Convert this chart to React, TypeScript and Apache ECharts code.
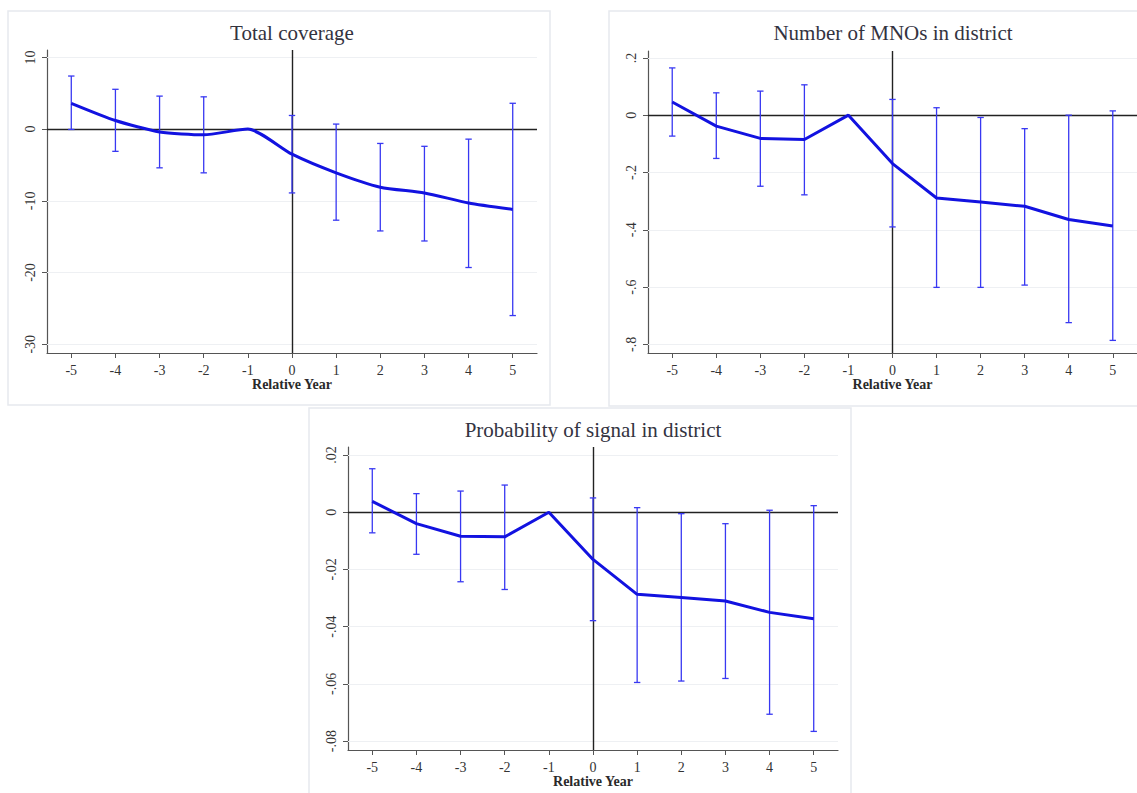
import React, { useEffect, useRef } from "react";
import * as echarts from "echarts";

const years = [-5, -4, -3, -2, -1, 0, 1, 2, 3, 4, 5];

const panelTitles = ["Total coverage", "Number of MNOs in district", "Probability of signal in district"];
const xAxisName = "Relative Year";

const coverageEst = [3.6, 1.2, -0.4, -0.8, 0, -3.5, -6.1, -8.1, -8.9, -10.3, -11.2];
const coverageLo = [-0.05, -3.1, -5.4, -6.1, null, -8.9, -12.7, -14.2, -15.6, -19.3, -26.0];
const coverageHi = [7.4, 5.55, 4.6, 4.5, null, 1.9, 0.7, -2.0, -2.4, -1.4, 3.6];

const mnoEst = [0.046, -0.038, -0.081, -0.085, 0, -0.169, -0.289, -0.303, -0.318, -0.364, -0.387];
const mnoLo = [-0.073, -0.151, -0.248, -0.278, null, -0.39, -0.601, -0.601, -0.593, -0.724, -0.786];
const mnoHi = [0.165, 0.078, 0.084, 0.106, null, 0.055, 0.026, -0.008, -0.047, 0.0, 0.015];

const probEst = [0.0038, -0.004, -0.0084, -0.0086, 0, -0.0165, -0.0287, -0.0298, -0.031, -0.035, -0.0372];
const probLo = [-0.0072, -0.0147, -0.0243, -0.027, null, -0.0379, -0.0595, -0.059, -0.0581, -0.0706, -0.0766];
const probHi = [0.0152, 0.0065, 0.0074, 0.0095, null, 0.005, 0.0016, -0.0005, -0.004, 0.0007, 0.0023];

const coverageTicks = [-30, -20, -10, 0, 10];
const coverageTickLabels = ["-30", "-20", "-10", "0", "10"];
const mnoTicks = [-0.8, -0.6, -0.4, -0.2, 0, 0.2];
const mnoTickLabels = ["-.8", "-.6", "-.4", "-.2", "0", ".2"];
const probTicks = [-0.08, -0.06, -0.04, -0.02, 0, 0.02];
const probTickLabels = ["-.08", "-.06", "-.04", "-.02", "0", ".02"];

const SERIF = "'Liberation Serif', 'Times New Roman', serif";
const LINE_BLUE = "#1212e0";
const BAR_BLUE = "#3838f2";

export default function App() {
  const ref = useRef<HTMLDivElement>(null);

  useEffect(() => {
    if (!ref.current) return;
    const chart = echarts.init(ref.current, undefined, { renderer: "svg" });

    const panels = [
      {
        title: panelTitles[0], est: coverageEst, lo: coverageLo, hi: coverageHi,
        ticks: coverageTicks, labels: coverageTickLabels, min: -31.22, max: 11.03,
        grid: { left: 47, top: 50, width: 490, height: 303 },
        titlePos: { left: 292, top: 22 }, smooth: 0.22,
        box: { x: 8, y: 11, width: 542, height: 394 },
      },
      {
        title: panelTitles[1], est: mnoEst, lo: mnoLo, hi: mnoHi,
        ticks: mnoTicks, labels: mnoTickLabels, min: -0.83, max: 0.224,
        grid: { left: 648, top: 51, width: 491, height: 302 },
        titlePos: { left: 893, top: 22 }, smooth: false,
        box: { x: 609, y: 11, width: 535, height: 395 },
      },
      {
        title: panelTitles[2], est: probEst, lo: probLo, hi: probHi,
        ticks: probTicks, labels: probTickLabels, min: -0.0831, max: 0.0228,
        grid: { left: 348, top: 447, width: 490, height: 303 },
        titlePos: { left: 593, top: 419 }, smooth: false,
        box: { x: 309, y: 408, width: 542, height: 395 },
      },
    ];

    const option: any = {
      animation: false,
      backgroundColor: "#ffffff",
      graphic: panels.map((p) => ({
        type: "rect",
        z: -10,
        shape: { x: p.box.x, y: p.box.y, width: p.box.width, height: p.box.height },
        style: { fill: "#ffffff", stroke: "#e6e9ee", lineWidth: 1.5 },
        silent: true,
      })),
      title: panels.map((p) => ({
        text: p.title,
        left: p.titlePos.left,
        top: p.titlePos.top,
        textAlign: "center",
        padding: 0,
        textStyle: { fontFamily: SERIF, fontSize: 21, fontWeight: "normal", color: "#33333f" },
      })),
      grid: panels.map((p) => ({ ...p.grid, containLabel: false })),
      xAxis: panels.map((p, i) => ({
        type: "value",
        gridIndex: i,
        min: -5.55,
        max: 5.55,
        name: xAxisName,
        nameLocation: "middle",
        nameGap: 21,
        nameTextStyle: { fontFamily: SERIF, fontSize: 14, fontWeight: "bold", color: "#2a2a2a" },
        axisLine: { show: true, onZero: false, lineStyle: { color: "#555555", width: 1.2 } },
        axisTick: { show: true, length: 5, customValues: years, lineStyle: { color: "#555555" } },
        axisLabel: {
          show: true, customValues: years, margin: 10,
          fontFamily: SERIF, fontSize: 14, color: "#333333",
          formatter: (v: number) => String(Math.round(v)),
        },
        splitLine: { show: false },
      })),
      yAxis: panels.map((p, i) => ({
        type: "value",
        gridIndex: i,
        min: p.min,
        max: p.max,
        axisLine: { show: true, onZero: false, lineStyle: { color: "#555555", width: 1.2 } },
        axisTick: { show: true, length: 5, customValues: p.ticks, lineStyle: { color: "#555555" } },
        axisLabel: {
          show: true, customValues: p.ticks, rotate: 90, margin: 10,
          fontFamily: SERIF, fontSize: 14, color: "#333333",
          formatter: (v: number) => {
            const idx = p.ticks.findIndex((t) => Math.abs(t - v) < 1e-9);
            return idx >= 0 ? p.labels[idx] : "";
          },
        },
        splitLine: { show: false },
      })),
      series: panels.flatMap((p, i) => [
        {
          type: "line",
          xAxisIndex: i,
          yAxisIndex: i,
          data: years.map((y, k) => [y, p.est[k]]),
          symbol: "none",
          smooth: p.smooth,
          lineStyle: { color: LINE_BLUE, width: 3 },
          z: 4,
          markLine: {
            silent: true,
            symbol: ["none", "none"],
            label: { show: false },
            z: 1,
            data: [
              ...p.ticks
                .filter((t) => t !== 0)
                .map((t) => ({ yAxis: t, lineStyle: { color: "#eef0f3", width: 1.2, type: "solid" } })),
              { yAxis: 0, lineStyle: { color: "#222222", width: 1.4, type: "solid" } },
              { xAxis: 0, lineStyle: { color: "#222222", width: 1.4, type: "solid" } },
            ],
          },
        },
        {
          type: "custom",
          xAxisIndex: i,
          yAxisIndex: i,
          z: 3,
          data: years
            .map((y, k) => [y, p.lo[k], p.hi[k]])
            .filter((d) => d[1] !== null && d[2] !== null),
          encode: { x: 0, y: [1, 2] },
          renderItem: (params: any, api: any) => {
            const x = api.value(0);
            const lo = api.coord([x, api.value(1)]);
            const hi = api.coord([x, api.value(2)]);
            const w = 3.2;
            const style = { stroke: BAR_BLUE, lineWidth: 1.3 };
            return {
              type: "group",
              children: [
                { type: "line", shape: { x1: lo[0], y1: lo[1], x2: hi[0], y2: hi[1] }, style },
                { type: "line", shape: { x1: lo[0] - w, y1: lo[1], x2: lo[0] + w, y2: lo[1] }, style },
                { type: "line", shape: { x1: hi[0] - w, y1: hi[1], x2: hi[0] + w, y2: hi[1] }, style },
              ],
            };
          },
        },
      ]),
    };

    chart.setOption(option);
    return () => chart.dispose();
  }, []);

  return (
    <div
      ref={ref}
      style={{ position: "absolute", left: 0, top: 0, width: 1137, height: 793, background: "#fff" }}
    />
  );
}
